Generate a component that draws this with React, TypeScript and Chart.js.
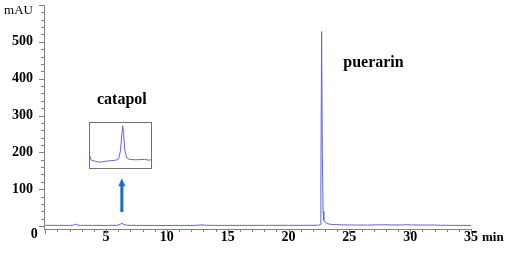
import React, { useEffect, useRef } from "react";
import { Chart, registerables } from "chart.js";

Chart.register(...registerables);

// ---- main chromatogram (time in min, signal in mAU) ----
const times = [
  0, 1.0, 2.0, 2.3, 2.45, 2.6, 2.9, 4.0, 5.0, 5.9, 6.15, 6.3, 6.45, 6.7, 7.5,
  9.0, 11.0, 12.4, 12.8, 13.2, 14.0, 16.0, 18.0, 20.0, 21.5, 22.45, 22.6,
  22.66, 22.72, 22.78, 22.84, 22.9, 23.0, 23.15, 23.4, 23.8, 24.5,
  25.5, 26.5, 27.2, 27.8, 28.5, 29.3, 29.7, 30.1, 31.0, 32.0, 32.5, 33.5, 35.0,
];
const signal = [
  2.0, 2.0, 1.8, 2.5, 5.5, 3.0, 2.0, 1.8, 1.8, 2.0, 4.5, 7.5, 4.5, 2.2, 1.8,
  1.6, 1.6, 1.8, 3.2, 2.2, 1.8, 1.8, 2.0, 2.0, 2.0, 2.2, 4.0,
  120, 528, 200, 40, 16, 11, 7, 5, 4, 3.2,
  2.8, 2.6, 3.2, 3.5, 3.0, 3.0, 3.8, 3.0, 2.8, 2.8, 2.2, 1.8, 1.8,
];

// ---- inset: zoomed view of the catapol peak ----
const insetTimes = [
  5.55, 5.58, 5.65, 5.75, 5.85, 5.95, 6.05, 6.15, 6.21, 6.25, 6.28, 6.3, 6.32,
  6.35, 6.39, 6.45, 6.6, 6.8, 6.9, 6.95,
];
const insetSignal = [
  3.0, 2.0, 1.8, 1.5, 1.6, 1.8, 1.9, 2.0, 2.4, 4.5, 8.5, 10.8, 8.8,
  4.5, 2.6, 2.2, 2.1, 2.2, 2.0, 2.1,
];

// ---- axes ----
const xTickLabels = [5, 10, 15, 20, 25, 30, 35];
const yTickLabels = [100, 200, 300, 400, 500];
const xMinorStep = 1;
const xMajorStep = 5;
const yMinorStep = 20;
const yMajorStep = 100;

const X_MIN = -0.1;
const X_MAX = 35;
const Y_MIN = -8;
const Y_MAX = 600;
const INSET_X = [5.55, 6.95];
const INSET_Y = [0, 11.5];

// ---- annotations (data coordinates) ----
const peakNames = ["catapol", "puerarin"];
const peakLabelX = [6.3, 24.5];
const peakLabelY = [331, 432];
const peakLabelAlign: CanvasTextAlign[] = ["center", "left"];
const arrowX = 6.3;
const arrowFromY = 38;
const arrowToY = 130;
const insetBoxX = [3.6, 8.8];
const insetBoxY = [155, 282];

const FONT = '"Liberation Serif", "Times New Roman", serif';
const TRACE = "#6262e2";
const AXIS = "#808080";
const ARROW = "#1a6fc0";

const decor = {
  id: "decor",
  afterDraw(chart: any) {
    const { ctx, chartArea, scales } = chart;
    const x = scales.x;
    const y = scales.y;
    ctx.save();
    // tick marks
    ctx.strokeStyle = AXIS;
    ctx.lineWidth = 1;
    ctx.beginPath();
    for (let v = 0; v <= X_MAX + 1e-9; v += xMinorStep) {
      const px = Math.round(x.getPixelForValue(v)) + 0.5;
      const len = Math.abs(v % xMajorStep) < 1e-9 ? 5 : 3;
      ctx.moveTo(px, chartArea.bottom);
      ctx.lineTo(px, chartArea.bottom + len);
    }
    for (let v = 0; v <= Y_MAX + 1e-9; v += yMinorStep) {
      const py = Math.round(y.getPixelForValue(v)) + 0.5;
      const len = Math.abs(v % yMajorStep) < 1e-9 ? 5 : 3;
      ctx.moveTo(chartArea.left, py);
      ctx.lineTo(chartArea.left - len, py);
    }
    ctx.stroke();

    // axis captions
    ctx.fillStyle = "#000";
    ctx.textBaseline = "alphabetic";
    ctx.font = `13px ${FONT}`;
    ctx.textAlign = "right";
    ctx.fillText("mAU", chartArea.left - 11, chartArea.top + 9);
    ctx.font = `bold 13px ${FONT}`;
    ctx.textAlign = "left";
    ctx.fillText("min", chartArea.right + 11, chartArea.bottom + 12);
    ctx.font = `bold 14px ${FONT}`;
    ctx.textAlign = "center";
    ctx.fillText("0", x.getPixelForValue(0) - 11, chartArea.bottom + 9);

    // peak names
    ctx.font = `bold 16px ${FONT}`;
    peakNames.forEach((name, i) => {
      ctx.textAlign = peakLabelAlign[i];
      ctx.fillText(name, x.getPixelForValue(peakLabelX[i]), y.getPixelForValue(peakLabelY[i]));
    });

    // arrow
    const ax = x.getPixelForValue(arrowX);
    const yFrom = y.getPixelForValue(arrowFromY);
    const yTo = y.getPixelForValue(arrowToY);
    const head = 8;
    ctx.fillStyle = ARROW;
    ctx.fillRect(ax - 1.5, yTo + head - 1, 3, yFrom - yTo - head + 1);
    ctx.beginPath();
    ctx.moveTo(ax, yTo);
    ctx.lineTo(ax - 3.5, yTo + head);
    ctx.lineTo(ax + 3.5, yTo + head);
    ctx.closePath();
    ctx.fill();
    ctx.restore();
  },
};

const zeroPadding = (s: any) => {
  s.paddingTop = 0;
  s.paddingBottom = 0;
  s.paddingLeft = 0;
  s.paddingRight = 0;
};

export default function App() {
  const mainRef = useRef<HTMLCanvasElement>(null);
  const insetRef = useRef<HTMLCanvasElement>(null);
  const boxRef = useRef<HTMLDivElement>(null);

  useEffect(() => {
    const main = new Chart(mainRef.current as HTMLCanvasElement, {
      type: "line",
      data: {
        datasets: [
          {
            data: times.map((t, i) => ({ x: t, y: signal[i] })),
            borderColor: TRACE,
            borderWidth: 1,
            pointRadius: 0,
            tension: 0,
            fill: false,
          },
        ],
      },
      options: {
        animation: false,
        responsive: false,
        events: [],
        layout: { padding: { top: 5, right: 35, left: 0, bottom: 0 } },
        plugins: { legend: { display: false }, tooltip: { enabled: false } },
        scales: {
          x: {
            type: "linear",
            min: X_MIN,
            max: X_MAX,
            afterBuildTicks: (s: any) => {
              s.ticks = xTickLabels.map((v) => ({ value: v }));
            },
            afterFit: (s: any) => {
              s.height = 31;
              zeroPadding(s);
            },
            grid: { display: true, drawOnChartArea: false, drawTicks: false },
            border: { color: AXIS, width: 1 },
            ticks: {
              padding: 0,
              maxRotation: 0,
              autoSkip: false,
              color: "#000",
              font: { family: FONT, size: 14, weight: "bold" },
              callback: (v: any) => String(v),
            },
          },
          y: {
            type: "linear",
            min: Y_MIN,
            max: Y_MAX,
            afterBuildTicks: (s: any) => {
              s.ticks = yTickLabels.map((v) => ({ value: v }));
            },
            afterFit: (s: any) => {
              s.width = 44;
              zeroPadding(s);
            },
            grid: { display: true, drawOnChartArea: false, drawTicks: false },
            border: { color: AXIS, width: 1 },
            ticks: {
              padding: 11,
              color: "#000",
              font: { family: FONT, size: 14, weight: "bold" },
              callback: (v: any) => String(v),
            },
          },
        },
      },
      plugins: [decor],
    } as any);

    const xs = main.scales.x;
    const ys = main.scales.y;
    const left = Math.round(xs.getPixelForValue(insetBoxX[0]));
    const right = Math.round(xs.getPixelForValue(insetBoxX[1]));
    const top = Math.round(ys.getPixelForValue(insetBoxY[1]));
    const bottom = Math.round(ys.getPixelForValue(insetBoxY[0]));
    const box = boxRef.current as HTMLDivElement;
    box.style.left = `${left}px`;
    box.style.top = `${top}px`;
    box.style.width = `${right - left}px`;
    box.style.height = `${bottom - top}px`;
    const c = insetRef.current as HTMLCanvasElement;
    c.width = right - left - 2;
    c.height = bottom - top - 2;
    c.style.width = `${c.width}px`;
    c.style.height = `${c.height}px`;

    const inset = new Chart(c, {
      type: "line",
      data: {
        datasets: [
          {
            data: insetTimes.map((t, i) => ({ x: t, y: insetSignal[i] })),
            borderColor: TRACE,
            borderWidth: 1,
            pointRadius: 0,
            tension: 0,
            fill: false,
          },
        ],
      },
      options: {
        animation: false,
        responsive: false,
        events: [],
        layout: { padding: 0 },
        plugins: { legend: { display: false }, tooltip: { enabled: false } },
        scales: {
          x: { type: "linear", min: INSET_X[0], max: INSET_X[1], display: false },
          y: { type: "linear", min: INSET_Y[0], max: INSET_Y[1], display: false },
        },
      },
    } as any);

    return () => {
      main.destroy();
      inset.destroy();
    };
  }, []);

  return (
    <div
      style={{
        position: "fixed",
        left: 0,
        top: 0,
        width: 506,
        height: 260,
        background: "#fff",
      }}
    >
      <canvas
        ref={mainRef}
        width={506}
        height={260}
        style={{ display: "block", width: 506, height: 260 }}
      />
      <div
        ref={boxRef}
        style={{
          position: "absolute",
          border: "1px solid #707070",
          boxSizing: "border-box",
          background: "#fff",
        }}
      >
        <canvas ref={insetRef} style={{ display: "block" }} />
      </div>
    </div>
  );
}
